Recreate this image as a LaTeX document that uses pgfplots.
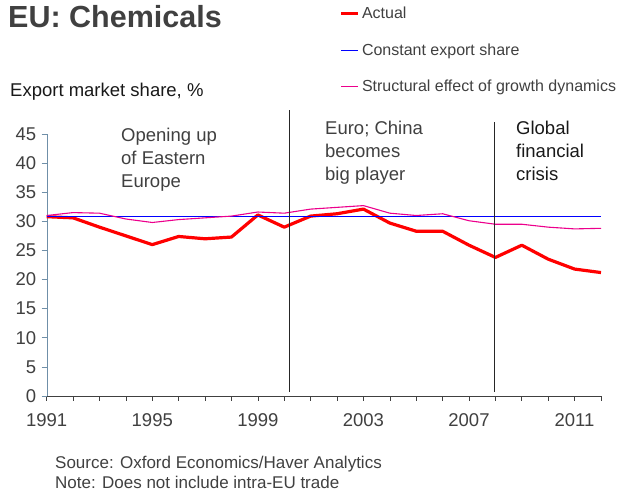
\documentclass[border=0pt]{standalone}
\usepackage{pgfplots}
\pgfplotsset{compat=1.18}
\usepackage{fontspec}
\setmainfont{Liberation Sans}
\definecolor{txt}{HTML}{404040}
\definecolor{yax}{HTML}{6F8FA8}
\definecolor{lblue}{HTML}{6F6FFF}
\begin{document}
\begin{tikzpicture}[x=1pt,y=1pt]
\useasboundingbox (0,0) rectangle (620,492);
\begin{axis}[
  at={(46.7pt,96pt)}, anchor=south west,
  scale only axis, width=554.3pt, height=262pt,
  xmin=1991, xmax=2012, ymin=0, ymax=45,
  axis x line*=bottom, axis y line*=left,
  x axis line style={draw=txt, -},
  y axis line style={draw=yax, -},
  xtick={1991,1992,...,2012},
  xticklabels={1991,,,,1995,,,,1999,,,,2003,,,,2007,,,,2011,},
  ytick={0,5,...,45},
  tick align=outside, major tick length=5pt,
  x tick style={draw=txt, line width=0.6pt},
  y tick style={draw=yax, line width=0.6pt},
  ticklabel style={font=\fontsize{18.5}{20}\selectfont, text=txt},
  /pgf/number format/assume math mode=true,
  xticklabel style={yshift=-9pt},
  yticklabel style={xshift=-2pt},
  clip=false,
  legend style={at={(0.5283,1.4924)}, anchor=north west, draw=none, fill=none,
    font=\fontsize{16}{18}\selectfont\color{txt}, row sep=19.5pt, inner sep=0pt,
    nodes={inner sep=2pt}},
  legend cell align=left,
]
\addplot[red, line width=3.2pt, line join=round] coordinates {
(1991,30.8) (1992,30.6) (1993,29.0) (1994,27.5) (1995,26.0) (1996,27.4)
(1997,27.0) (1998,27.3) (1999,31.1) (2000,29.0) (2001,30.9) (2002,31.3)
(2003,32.1) (2004,29.7) (2005,28.3) (2006,28.3) (2007,25.9) (2008,23.8)
(2009,25.9) (2010,23.5) (2011,21.8) (2012,21.2)};
\addplot[blue, line width=1.1pt] coordinates {
(1991,30.8) (1992,30.8) (1993,30.8) (1994,30.8) (1995,30.8) (1996,30.8)
(1997,30.8) (1998,30.8) (1999,30.8) (2000,30.8) (2001,30.8) (2002,30.8)
(2003,30.8) (2004,30.8) (2005,30.8) (2006,30.8) (2007,30.8) (2008,30.8)
(2009,30.8) (2010,30.8) (2011,30.8) (2012,30.8)};
\addplot[magenta, line width=1.1pt] coordinates {
(1991,31.0) (1992,31.5) (1993,31.4) (1994,30.4) (1995,29.8) (1996,30.3)
(1997,30.6) (1998,30.9) (1999,31.6) (2000,31.4) (2001,32.1) (2002,32.4)
(2003,32.7) (2004,31.4) (2005,31.0) (2006,31.3) (2007,30.1) (2008,29.5)
(2009,29.5) (2010,29.0) (2011,28.7) (2012,28.8)};
\addplot[black!85, line width=0.9pt, forget plot] coordinates {(2000.2,0.7) (2000.2,49.1)};
\addplot[black!85, line width=0.9pt, forget plot] coordinates {(2007.95,0.7) (2007.95,47.0)};
\addlegendimage{legend image code/.code={\draw[red, line width=2.6pt] (0pt,0pt) -- (15pt,0pt); \path (18pt,0pt);}}
\addlegendentry{Actual}
\addlegendimage{legend image code/.code={\draw[lblue, line width=1.6pt] (0pt,0pt) -- (15pt,0pt); \path (18pt,0pt);}}
\addlegendentry{Constant export share}
\addlegendimage{legend image code/.code={\draw[magenta, line width=1.6pt] (0pt,0pt) -- (15pt,0pt); \path (18pt,0pt);}}
\addlegendentry{Structural effect of growth dynamics}
\end{axis}
\node[anchor=base west, inner sep=0pt, text=txt, font=\fontsize{30.5}{32}\selectfont\bfseries] at (8,464) {EU: Chemicals};
\node[anchor=base west, inner sep=0pt, text=black!90, font=\fontsize{18.5}{20}\selectfont] at (10,395) {Export market share, \%};
\node[anchor=base west, inner sep=0pt, align=left, text=txt, font=\fontsize{18.5}{23}\selectfont] at (121,304) {Opening up\\of Eastern\\Europe};
\node[anchor=base west, inner sep=0pt, align=left, text=txt, font=\fontsize{18.5}{23}\selectfont] at (325,311) {Euro; China\\becomes\\big player};
\node[anchor=base west, inner sep=0pt, align=left, text=black!90, font=\fontsize{18.5}{23}\selectfont] at (516,311) {Global\\financial\\crisis};
\node[anchor=base west, inner sep=0pt, align=left, text=txt, font=\fontsize{17}{20}\selectfont] at (55,24) {Source: Oxford Economics/Haver Analytics};
\node[anchor=base west, inner sep=0pt, align=left, text=txt, font=\fontsize{17}{20}\selectfont] at (55,4) {Note: Does not include intra-EU trade};
\end{tikzpicture}
\end{document}
